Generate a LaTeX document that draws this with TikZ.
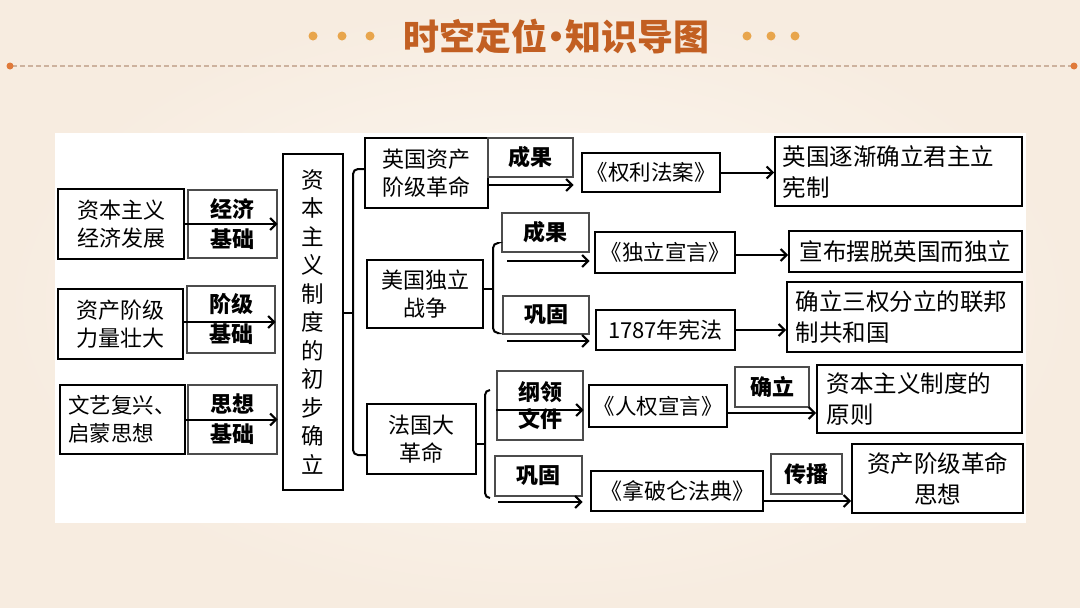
\documentclass[tikz,border=0pt]{standalone}
\usepackage{fontspec}
\setmainfont{Noto Sans CJK SC}
\usetikzlibrary{arrows.meta}
\definecolor{bgc}{HTML}{F7ECE0}
\definecolor{bgin}{HTML}{FDF8F2}
\definecolor{titc}{HTML}{C25F22}
\definecolor{dotc}{HTML}{E8A54C}
\definecolor{dashc}{HTML}{CDB29E}
\definecolor{endc}{HTML}{E07A3A}
\tikzset{
  mainbox/.style={draw=black, line width=2pt, fill=white, align=center, inner sep=0pt,
    font=\fontsize{22}{28}\selectfont},
  rbox/.style={draw=black, line width=2pt, fill=white, inner sep=0pt,
    font=\fontsize{23.5}{31}\selectfont},
  lbl/.style={draw=black!70, line width=1.1pt, fill=white, align=center, inner sep=0pt,
    font=\fontsize{22}{30}\selectfont\bfseries},
  arr/.style={line width=2pt, -{Straight Barb[length=6pt,width=12pt,line width=2pt]}},
  brk/.style={line width=2pt, rounded corners=5pt},
}
\begin{document}
\begin{tikzpicture}[x=1pt,y=-1pt]
\useasboundingbox (0,0) rectangle (1080,608);
\shade[inner color=bgin, outer color=bgc] (0,0) rectangle (1080,608);
\fill[white] (55,133) rectangle (1026,523);

% title
\node[font=\fontsize{36}{40}\selectfont\bfseries, text=titc, inner sep=0pt] (title) at (556,36) {时空定位\kern-0.25em•\kern-0.25em知识导图};
\foreach \x in {313,342,370,747,771,795} \fill[dotc] (\x,36) circle (4.5);
\draw[dashc, line width=1.6pt, dash pattern=on 4.5pt off 3.5pt] (12,66) -- (1073,66);
\fill[endc] (10,66) circle (3.5);
\fill[endc] (1074,66) circle (3.5);

% left column
\node[mainbox, minimum width=126pt, minimum height=70pt] (A1) at (121,224) {资本主义\\经济发展};
\node[lbl, minimum width=89pt, minimum height=68pt] (L1) at (232.5,224) {经济\\基础};
\node[mainbox, minimum width=125pt, minimum height=70pt] (A2) at (120.5,324) {资产阶级\\力量壮大};
\node[lbl, minimum width=88pt, minimum height=67pt] (L2) at (231,319.5) {阶级\\基础};
\node[mainbox, minimum width=125pt, minimum height=69pt, text width=109pt, align=left, font=\fontsize{21.5}{28}\selectfont] (A3) at (122.5,419.5) {文艺复兴、\\启蒙思想};
\node[lbl, minimum width=89pt, minimum height=69pt] (L3) at (232.5,419.5) {思想\\基础};

\draw[arr] (A1.east) -- (L1.east |- A1.east);
\draw[arr] (A2.east |- 0,322) -- (L2.east |- 0,322);
\draw[arr] (A3.east) -- (L3.east |- A3.east);

% vertical box
\node[mainbox, minimum width=60pt, minimum height=336pt, font=\fontsize{22.5}{28.5}\selectfont] (V) at (313,322)
  {资\\本\\主\\义\\制\\度\\的\\初\\步\\确\\立};

% main bracket
\coordinate (bt) at (365,169);
\coordinate (bb) at (367,455);
\draw[brk] (V.east |- 0,313) -- (353,313);
\draw[brk] (bt) -- (353,169) -- (353,455) -- (bb);

% England
\node[mainbox, minimum width=123pt, minimum height=70pt] (B1) at (426.5,173) {英国资产\\阶级革命};
\node[lbl, minimum width=85pt, minimum height=39pt] (Lb1) at (530.5,157.5) {成果};
\node[mainbox, minimum width=138pt, minimum height=39pt, font=\fontsize{21.5}{28}\selectfont] (C1) at (651,172.5) {《权利法案》};
\node[rbox, minimum width=247pt, minimum height=69pt, text width=232pt, align=left] (D1) at (898.5,171.5) {英国逐渐确立君主立\\宪制};
\draw[arr] (B1.east |- 0,185) -- (Lb1.east |- 0,185);
\draw[arr] (C1.east) -- (D1.west |- C1.east);

% America
\node[mainbox, minimum width=116pt, minimum height=68pt] (B2) at (425,294) {美国独立\\战争};
\node[lbl, minimum width=87pt, minimum height=39pt] (Lb2) at (545.5,232.5) {成果};
\node[mainbox, minimum width=140pt, minimum height=41pt, font=\fontsize{21.5}{28}\selectfont] (C2) at (665,252.5) {《独立宣言》};
\node[rbox, minimum width=233pt, minimum height=41pt, align=center] (D2) at (905.5,251.5) {宣布摆脱英国而独立};
\node[lbl, minimum width=86pt, minimum height=38pt] (Lb3) at (546,315) {巩固};
\node[mainbox, minimum width=139pt, minimum height=40pt] (C3) at (665.5,330) {1787年宪法};
\node[rbox, minimum width=235pt, minimum height=70pt, text width=218pt, align=left] (D3) at (904.5,317) {确立三权分立的联邦\\制共和国};
\draw[brk] (B2.east |- 0,289) -- (493,289);
\draw[brk] (497,243) -- (493,243) -- (493,333) -- (497,333);
\draw[arr] (507,261) -- (Lb2.east |- 0,261);
\draw[arr] (507,341) -- (Lb3.east |- 0,341);
\draw[arr] (C2.east |- 0,255) -- (D2.west |- 0,255);
\draw[arr] (C3.east) -- (D3.west |- C3.east);

% France
\node[mainbox, minimum width=109pt, minimum height=70pt] (B3) at (421.5,439) {法国大\\革命};
\node[lbl, minimum width=86pt, minimum height=69pt, font=\fontsize{22}{27}\selectfont\bfseries] (Lb4) at (540,405.5) {纲领\\文件};
\node[mainbox, minimum width=138pt, minimum height=42pt, font=\fontsize{21.5}{28}\selectfont] (C4) at (658,406) {《人权宣言》};
\node[lbl, minimum width=74pt, minimum height=40pt] (Lb5) at (772,387) {确立};
\node[rbox, minimum width=205pt, minimum height=68pt, text width=186pt, align=left] (D4) at (919.5,399) {资本主义制度的\\原则};
\node[lbl, minimum width=87pt, minimum height=40pt] (Lb6) at (538.5,476) {巩固};
\node[mainbox, minimum width=172pt, minimum height=40pt] (C5) at (677,491) {《拿破仑法典》};
\node[lbl, minimum width=71pt, minimum height=40pt] (Lb7) at (806.5,474) {传播};
\node[rbox, minimum width=171pt, minimum height=69pt, align=center] (D5) at (937.5,478.5) {资产阶级革命\\思想};
\draw[brk] (B3.east |- 0,444) -- (485,444);
\draw[brk] (490,390) -- (485,390) -- (485,498) -- (490,498);
\draw[arr] (Lb4.west |- 0,410) -- (Lb4.east |- 0,410);
\draw[arr] (498,502) -- (Lb6.east |- 0,502);
\draw[arr] (C4.east |- 0,413) -- (D4.west |- 0,413);
\draw[arr] (C5.east |- 0,501) -- (D5.west |- 0,501);
\end{tikzpicture}
\end{document}
